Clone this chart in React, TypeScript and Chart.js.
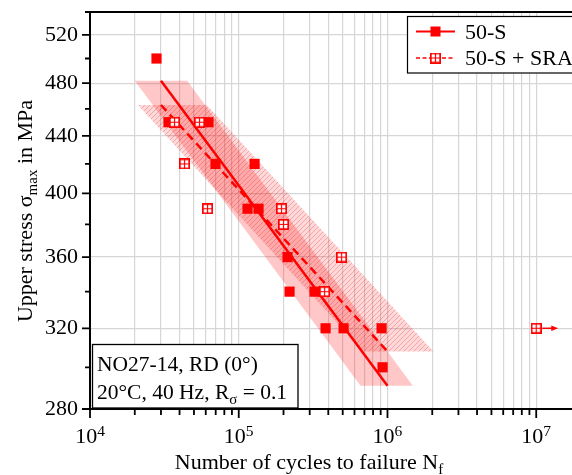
import React, { useEffect, useRef } from 'react';
import { Chart, registerables } from 'chart.js';

Chart.register(...registerables);

const FONT = "'Liberation Serif', 'Times New Roman', serif";

// ---- data (cycles to failure, upper stress in MPa) ----
const s50Cycles = [28000, 33700, 62600, 69800, 127800, 114600, 135900, 212900, 219600, 323500, 383600, 506800, 912600, 926800];
const s50Stress = [500, 450, 450, 420, 420, 390, 390, 360, 340, 340, 320, 320, 320, 300];

const sraCycles = [37000, 54500, 43200, 61700, 194000, 200100, 491300, 377600, 10000000];
const sraStress = [450, 450, 420, 390, 390, 380, 360, 340, 320];
const sraRunout = [false, false, false, false, false, false, false, false, true];

const s50FitCycles = [30000, 1000000];
const s50FitStress = [482, 291];
const sraFitCycles = [30000, 1000000];
const sraFitStress = [463, 308];

const s50BandCycles = [20000, 45000, 1480000, 659000];
const s50BandStress = [482, 482, 291, 291];
const sraBandCycles = [21000, 61000, 2040000, 690000];
const sraBandStress = [463, 463, 308, 308];

const seriesLabels = ['50-S', '50-S + SRA'];

// ---- axes ----
const xMin = 10000;
const xMax = 17400000;
const xDecades = [10000, 100000, 1000000, 10000000];
const xTickBase = ['10', '10', '10', '10'];
const xTickExp = ['4', '5', '6', '7'];
const xMinorFactors = [2, 3, 4, 5, 6, 7, 8, 9];
const yMin = 280;
const yMax = 540;
const yMajorTicks = [280, 320, 360, 400, 440, 480, 520];
const yMinorTicks = [300, 340, 380, 420, 460, 500, 540];

const annotationLines = ['NO27-14, RD (0\u00b0)'];

type Seg = { t: string; size: number; dy: number };

function drawRich(ctx: CanvasRenderingContext2D, segs: Seg[], x: number, y: number, align: 'left' | 'center') {
  let total = 0;
  const widths = segs.map((s) => {
    ctx.font = `${s.size}px ${FONT}`;
    const w = ctx.measureText(s.t).width;
    total += w;
    return w;
  });
  let cx = align === 'center' ? x - total / 2 : x;
  ctx.textAlign = 'left';
  ctx.textBaseline = 'alphabetic';
  segs.forEach((s, i) => {
    ctx.font = `${s.size}px ${FONT}`;
    ctx.fillText(s.t, cx, y + s.dy);
    cx += widths[i];
  });
}

function makeGridMarker(): HTMLCanvasElement {
  const c = document.createElement('canvas');
  c.width = 11;
  c.height = 11;
  const g = c.getContext('2d')!;
  g.fillStyle = '#ffffff';
  g.fillRect(0, 0, 11, 11);
  g.strokeStyle = '#ff0000';
  g.lineWidth = 1.7;
  g.strokeRect(0.85, 0.85, 9.3, 9.3);
  g.lineWidth = 1.2;
  g.beginPath();
  g.moveTo(5.5, 1);
  g.lineTo(5.5, 10);
  g.moveTo(1, 5.5);
  g.lineTo(10, 5.5);
  g.stroke();
  return c;
}

function makeHatch(): CanvasPattern {
  const c = document.createElement('canvas');
  c.width = 5;
  c.height = 5;
  const g = c.getContext('2d')!;
  g.fillStyle = 'rgba(255,0,0,0.15)';
  g.fillRect(0, 0, 5, 5);
  g.strokeStyle = 'rgba(220,0,0,0.25)';
  g.lineWidth = 1;
  g.beginPath();
  g.moveTo(-1, 6);
  g.lineTo(6, -1);
  g.moveTo(-1, 1);
  g.lineTo(1, -1);
  g.moveTo(4, 6);
  g.lineTo(6, 4);
  g.stroke();
  return g.createPattern(c, 'repeat')!;
}

const toPts = (xs: number[], ys: number[]) => xs.map((x, i) => ({ x, y: ys[i] }));

const zeroPad = (s: any) => {
  s.paddingTop = 0;
  s.paddingBottom = 0;
  s.paddingLeft = 0;
  s.paddingRight = 0;
};

export default function App() {
  const ref = useRef<HTMLCanvasElement>(null);

  useEffect(() => {
    const canvas = ref.current!;
    const marker = makeGridMarker();
    const hatch = makeHatch();

    const xTickValues = xDecades
      .flatMap((d) => [d, ...xMinorFactors.map((f) => f * d)])
      .filter((v) => v >= xMin && v <= xMax);
    const yTickValues = [...yMajorTicks, ...yMinorTicks].sort((a, b) => a - b);
    const isDecade = (v: number) => xDecades.some((d) => Math.abs(v / d - 1) < 1e-9);

    const decor = {
      id: 'decor',
      afterDraw(chart: any) {
        const { ctx, chartArea: a } = chart;
        const xs = chart.scales.x;
        const ys = chart.scales.y;
        ctx.save();
        ctx.strokeStyle = '#000';
        // top frame
        ctx.lineWidth = 2;
        ctx.beginPath();
        ctx.moveTo(a.left - 1, a.top);
        ctx.lineTo(a.right + 2, a.top);
        ctx.stroke();
        // y tick marks
        ctx.lineWidth = 1.8;
        ctx.beginPath();
        yTickValues.forEach((v) => {
          const py = ys.getPixelForValue(v);
          const len = yMajorTicks.includes(v) ? 7 : 4;
          ctx.moveTo(a.left - 1 - len, py);
          ctx.lineTo(a.left - 1, py);
        });
        // x tick marks
        xTickValues.forEach((v) => {
          const px = xs.getPixelForValue(v);
          const len = isDecade(v) ? 8 : 5;
          ctx.moveTo(px, a.bottom + 1);
          ctx.lineTo(px, a.bottom + 1 + len);
        });
        ctx.stroke();

        // x tick labels (power-of-ten notation)
        ctx.fillStyle = '#000';
        xDecades.forEach((d, i) => {
          const px = xs.getPixelForValue(d);
          drawRich(
            ctx,
            [
              { t: xTickBase[i], size: 22, dy: 0 },
              { t: xTickExp[i], size: 15.5, dy: -7.5 },
            ],
            px,
            443,
            'center'
          );
        });

        // run-out arrows
        ctx.strokeStyle = '#ff0000';
        ctx.fillStyle = '#ff0000';
        ctx.lineWidth = 1.5;
        const meta = chart.getDatasetMeta(1);
        sraRunout.forEach((r, i) => {
          if (!r) return;
          const el = meta.data[i];
          const px = el.x;
          const py = el.y;
          ctx.beginPath();
          ctx.moveTo(px + 6, py);
          ctx.lineTo(px + 16, py);
          ctx.stroke();
          ctx.beginPath();
          ctx.moveTo(px + 22, py);
          ctx.lineTo(px + 15, py - 2.8);
          ctx.lineTo(px + 15, py + 2.8);
          ctx.closePath();
          ctx.fill();
        });

        // annotation box
        ctx.fillStyle = '#ffffff';
        ctx.fillRect(92, 344, 206, 64);
        ctx.strokeStyle = '#000';
        ctx.lineWidth = 1.3;
        ctx.strokeRect(92.5, 344.5, 205.5, 63.5);
        ctx.fillStyle = '#000';
        drawRich(ctx, [{ t: annotationLines[0], size: 21.5, dy: 0 }], 97, 371, 'left');
        drawRich(
          ctx,
          [
            { t: '20\u00b0C, 40 Hz, R', size: 21.5, dy: 0 },
            { t: '\u03c3', size: 15, dy: 5 },
            { t: ' = 0.1', size: 21.5, dy: 0 },
          ],
          97,
          399,
          'left'
        );

        // legend
        ctx.fillStyle = '#ffffff';
        ctx.fillRect(407, 16, 200, 57);
        ctx.strokeStyle = '#000';
        ctx.lineWidth = 1.2;
        ctx.strokeRect(407.5, 16.5, 200, 56.5);
        ctx.strokeStyle = '#ff0000';
        ctx.lineWidth = 2;
        ctx.beginPath();
        ctx.moveTo(416, 31.5);
        ctx.lineTo(455, 31.5);
        ctx.stroke();
        ctx.fillStyle = '#ff0000';
        ctx.fillRect(430.5, 26.5, 10, 10);
        ctx.lineWidth = 1.5;
        ctx.setLineDash([4, 2.5]);
        ctx.beginPath();
        ctx.moveTo(416, 58);
        ctx.lineTo(455, 58);
        ctx.stroke();
        ctx.setLineDash([]);
        ctx.drawImage(marker, 430, 52.5);
        ctx.fillStyle = '#000';
        drawRich(ctx, [{ t: chart.data.datasets[0].label, size: 22, dy: 0 }], 465, 38.5, 'left');
        drawRich(ctx, [{ t: chart.data.datasets[1].label, size: 22, dy: 0 }], 465, 65, 'left');

        // axis titles
        drawRich(
          ctx,
          [
            { t: 'Number of cycles to failure N', size: 22, dy: 0 },
            { t: 'f', size: 15, dy: 5 },
          ],
          309,
          469,
          'center'
        );
        ctx.save();
        ctx.translate(32, 211);
        ctx.rotate(-Math.PI / 2);
        drawRich(
          ctx,
          [
            { t: 'Upper stress \u03c3', size: 22, dy: 0 },
            { t: 'max', size: 15, dy: 5 },
            { t: ' in MPa', size: 22, dy: 0 },
          ],
          0,
          0,
          'center'
        );
        ctx.restore();
        ctx.restore();
      },
    };

    const chart = new Chart(canvas, {
      type: 'scatter',
      data: {
        datasets: [
          {
            label: seriesLabels[0],
            data: toPts(s50Cycles, s50Stress),
            pointStyle: 'rect',
            pointRadius: 7.2,
            backgroundColor: '#ff0000',
            borderColor: '#ff0000',
            borderWidth: 0,
            order: 1,
          },
          {
            label: seriesLabels[1],
            data: toPts(sraCycles, sraStress),
            pointStyle: marker,
            pointRadius: 5.5,
            order: 0,
          },
          {
            label: 'fit 50-S',
            type: 'line',
            data: toPts(s50FitCycles, s50FitStress),
            borderColor: '#ff0000',
            borderWidth: 2.5,
            pointRadius: 0,
            fill: false,
            order: 3,
          },
          {
            label: 'fit 50-S + SRA',
            type: 'line',
            data: toPts(sraFitCycles, sraFitStress),
            borderColor: '#ff0000',
            borderWidth: 2.5,
            borderDash: [8, 5],
            pointRadius: 0,
            fill: false,
            order: 3,
          },
          {
            label: 'band 50-S',
            type: 'line',
            data: toPts(s50BandCycles, s50BandStress),
            borderColor: 'rgba(0,0,0,0)',
            borderWidth: 0,
            backgroundColor: 'rgba(255,0,0,0.22)',
            pointRadius: 0,
            fill: 'shape',
            order: 5,
          },
          {
            label: 'band 50-S + SRA',
            type: 'line',
            data: toPts(sraBandCycles, sraBandStress),
            borderColor: 'rgba(0,0,0,0)',
            borderWidth: 0,
            backgroundColor: hatch,
            pointRadius: 0,
            fill: 'shape',
            order: 6,
          },
        ] as any,
      },
      plugins: [decor],
      options: {
        responsive: false,
        animation: false,
        events: [],
        layout: { padding: { top: 12, left: 0, right: 0, bottom: 0 }, autoPadding: false } as any,
        plugins: {
          legend: { display: false },
          tooltip: { enabled: false },
          title: { display: false },
        },
        scales: {
          x: {
            type: 'logarithmic',
            min: xMin,
            max: xMax,
            afterBuildTicks: (s: any) => {
              s.ticks = xTickValues.map((v) => ({ value: v }));
            },
            afterFit: (s: any) => {
              s.height = 66;
              zeroPad(s);
            },
            ticks: {
              display: false,
              autoSkip: false,
              maxRotation: 0,
              minRotation: 0,
            },
            grid: {
              drawTicks: false,
              color: (c: any) => (c.tick && Math.abs(c.tick.value / xMin - 1) < 1e-9 ? 'rgba(0,0,0,0)' : '#d6d6d6'),
              lineWidth: 1.2,
            },
            border: { color: '#000', width: 2 },
          } as any,
          y: {
            type: 'logarithmic',
            min: yMin,
            max: yMax,
            afterBuildTicks: (s: any) => {
              s.ticks = yTickValues.map((v) => ({ value: v }));
            },
            afterFit: (s: any) => {
              s.width = 90;
              zeroPad(s);
            },
            ticks: {
              autoSkip: false,
              padding: 12,
              color: '#000',
              font: { family: FONT, size: 22 },
              callback: (v: any) => (yMajorTicks.includes(Number(v)) ? String(v) : ''),
            },
            grid: {
              drawTicks: false,
              color: (c: any) =>
                c.tick && yMajorTicks.includes(c.tick.value) && c.tick.value !== yMin ? '#d6d6d6' : 'rgba(0,0,0,0)',
              lineWidth: 1.2,
            },
            border: { color: '#000', width: 2 },
          } as any,
        },
      },
    });
    return () => chart.destroy();
  }, []);

  return (
    <div style={{ position: 'absolute', left: 0, top: 0, width: 572, height: 475, background: '#fff' }}>
      <canvas ref={ref} width={572} height={475} style={{ display: 'block' }} />
    </div>
  );
}
